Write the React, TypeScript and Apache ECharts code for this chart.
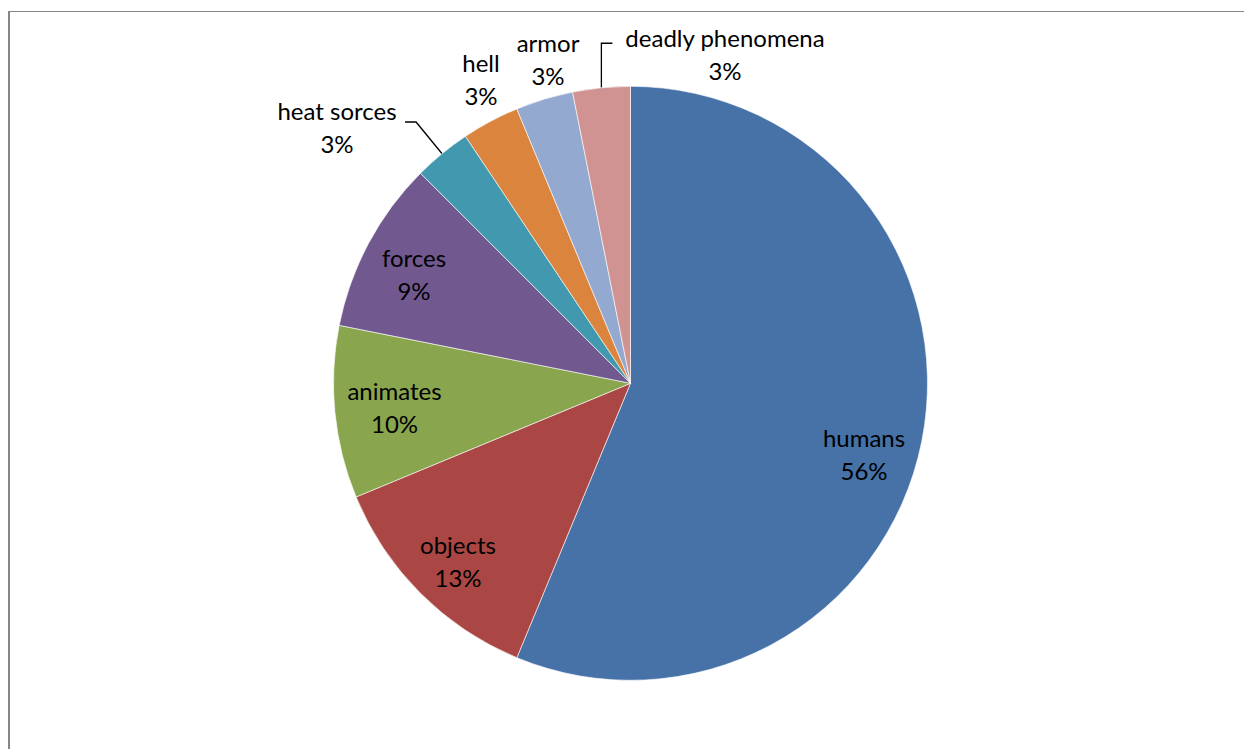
import React, { useEffect, useRef } from "react";
import * as echarts from "echarts";

// ---- data ----
const CATEGORIES = [
  "humans",
  "objects",
  "animates",
  "forces",
  "heat sorces",
  "hell",
  "armor",
  "deadly phenomena",
];
const COUNTS = [18, 4, 3, 3, 1, 1, 1, 1];
const COLORS = [
  "#4672A8",
  "#AA4744",
  "#89A54E",
  "#71588F",
  "#4198AF",
  "#DB843D",
  "#93A9CF",
  "#D19392",
];
const SHOW_LEADER = [false, false, false, false, true, false, false, true];

// ---- layout ----
const CX = 630.5;
const CY = 383.3;
const R = 297;
// label block centres
const LABEL_X = [864, 458, 394.5, 414, 337, 481, 548, 725];
const LABEL_Y = [453.5, 561, 407, 273.5, 127, 79, 59, 54];

function midAngles(): number[] {
  const total = COUNTS.reduce((a, b) => a + b, 0);
  let acc = 0;
  return COUNTS.map((v) => {
    const m = ((acc + v / 2) / total) * Math.PI * 2; // clockwise from 12 o'clock
    acc += v;
    return m;
  });
}

export default function App() {
  const ref = useRef<HTMLDivElement>(null);
  useEffect(() => {
    if (!ref.current) return;
    const chart = echarts.init(ref.current, undefined, { renderer: "svg" });
    const mids = midAngles();
    const polar = (r: number, a: number) => [CX + r * Math.sin(a), CY - r * Math.cos(a)];

    const leaderPoints = (i: number) => {
      const a = mids[i];
      const p0 = polar(R, a);
      if (i === 4) {
        const p1 = polar(R + 41, a);
        return [p0, p1, [p1[0] - 11, p1[1]]];
      }
      const p1 = [p0[0], p0[1] - 44.5];
      return [p0, p1, [p1[0] + 11, p1[1]]];
    };

    chart.setOption({
      animation: false,
      backgroundColor: "#ffffff",
      graphic: [
        {
          type: "line",
          silent: true,
          shape: { x1: 9, y1: 11, x2: 9, y2: 760 },
          style: { stroke: "#868686", lineWidth: 2 },
        },
        {
          type: "line",
          silent: true,
          shape: { x1: 8, y1: 11.5, x2: 1260, y2: 11.5 },
          style: { stroke: "#868686", lineWidth: 1.2 },
        },
      ],
      series: [
        {
          type: "pie",
          center: [CX, CY],
          radius: [0, R],
          startAngle: 90,
          clockwise: true,
          avoidLabelOverlap: false,
          percentPrecision: 0,
          itemStyle: { borderColor: "#ffffff", borderWidth: 0.6 },
          emphasis: { disabled: true },
          label: {
            show: true,
            position: "outside",
            formatter: "{n|{b}}\n{p|{d}%}",
            color: "#000000",
            fontFamily: "Lato",
            fontSize: 24,
            lineHeight: 33,
            rich: {
              n: { align: "center", fontFamily: "Lato", fontSize: 24, lineHeight: 33, color: "#000" },
              p: { align: "center", fontFamily: "Lato", fontSize: 24, lineHeight: 33, color: "#000" },
            },
          },
          labelLine: {
            show: true,
            length: 41,
            length2: 11,
            lineStyle: { color: "#000000", width: 1.3 },
          },
          labelLayout: (params: any) => {
            const i = params.dataIndex;
            const out: any = {
              x: LABEL_X[i],
              y: LABEL_Y[i],
              align: "center",
              verticalAlign: "middle",
            };
            if (SHOW_LEADER[i]) out.labelLinePoints = leaderPoints(i);
            return out;
          },
          data: CATEGORIES.map((name, i) => ({
            name,
            value: COUNTS[i],
            itemStyle: { color: COLORS[i] },
            labelLine: { show: SHOW_LEADER[i] },
          })),
        },
      ],
    });
    return () => chart.dispose();
  }, []);
  return (
    <div
      ref={ref}
      style={{ position: "fixed", left: 0, top: 0, width: 1244, height: 749, background: "#fff" }}
    />
  );
}
